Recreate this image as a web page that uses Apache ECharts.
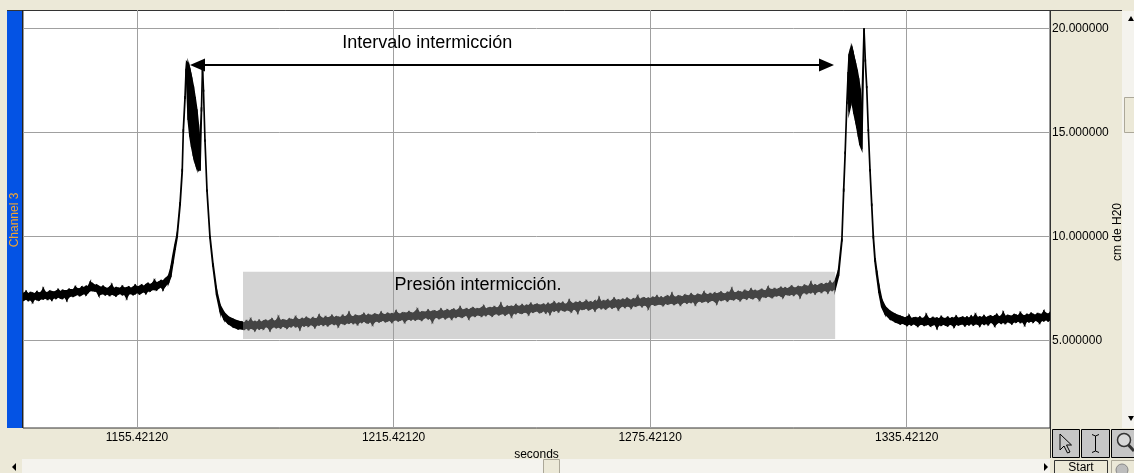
<!DOCTYPE html>
<html>
<head>
<meta charset="utf-8">
<script src="https://cdn.jsdelivr.net/npm/echarts@6/dist/echarts.min.js"></script>
<style>
html, body { margin: 0; padding: 0; background: #ECE9D8; }
#chart { width: 1134px; height: 473px; }
</style>
</head>
<body>
<div id="chart"></div>
<script>
// Axis ticks
const tickSeconds = [1155.4212, 1215.4212, 1275.4212, 1335.4212];
const tickPressure = [5, 10, 15, 20];

// Pressure trace, channel 3: [seconds, min cm H2O, max cm H2O] per sample bin
const baselineBefore = [
  [1128.5,6.88,7.23],[1129,6.95,7.26],[1129.5,6.99,7.34],[1130,6.93,7.23],[1130.5,6.97,7.29],
  [1131,6.85,7.27],[1131.5,7.00,7.24],[1132,6.96,7.33],[1132.5,6.94,7.27],[1133,7.01,7.31],
  [1133.5,7.00,7.47],[1134,7.04,7.30],[1134.5,6.98,7.29],[1135,7.03,7.36],[1135.5,6.95,7.34],
  [1136,7.06,7.32],[1136.5,7.03,7.36],[1137,7.10,7.43],[1137.5,7.04,7.33],[1138,7.02,7.40],
  [1138.5,7.10,7.38],[1139,6.95,7.38],[1139.5,7.10,7.45],[1140,7.15,7.43],[1140.5,7.12,7.42],
  [1141,7.17,7.56],[1141.5,7.22,7.48],[1142,7.16,7.47],[1142.5,7.21,7.56],[1143,7.26,7.53],
  [1143.5,7.20,7.59],[1144,7.31,7.58],[1144.5,7.40,7.79],[1145,7.40,7.73],[1145.5,7.38,7.65],
  [1146,7.36,7.65],[1146.5,7.17,7.59],[1147,7.24,7.54],[1147.5,7.25,7.59],[1148,7.20,7.52],
  [1148.5,7.24,7.49],[1149,7.17,7.55],[1149.5,7.22,7.66],[1150,7.20,7.48],[1150.5,7.15,7.53],
  [1151,7.23,7.51],[1151.5,7.26,7.50],[1152,7.20,7.59],[1152.5,7.22,7.50],[1153,7.05,7.53],
  [1153.5,7.24,7.56],[1154,7.26,7.50],[1154.5,7.21,7.55],[1155,7.25,7.64],[1155.5,7.31,7.56],
  [1156,7.24,7.59],[1156.5,7.30,7.65],[1157,7.35,7.59],[1157.5,7.27,7.68],[1158,7.39,7.73],
  [1158.5,7.38,7.68],[1159,7.45,7.73],[1159.5,7.45,7.88],[1160,7.43,7.76],[1160.5,7.52,7.80],
  [1161,7.58,7.87],[1161.5,7.46,7.85],[1162,7.62,7.95]
];
const peakOne = [
  [1162.8,7.78,8.10],[1163.3,8.05,8.45],[1163.8,8.70,9.05],[1164.3,9.35,9.60],[1164.8,9.95,10.10],
  [1165.5,11.50,11.65],[1166.0,13.10,13.25],[1166.25,15.00,15.15],[1166.65,16.60,16.75],
  [1166.9,17.90,18.05],[1167.04,17.50,18.38],[1167.4,15.60,18.30],[1167.8,14.80,18.00],
  [1168.2,14.30,17.60],[1168.6,13.90,17.20],[1168.98,13.60,16.70],[1169.4,13.30,16.10],
  [1169.75,13.20,15.40],[1170.15,13.19,14.50],[1170.5,16.00,16.20],[1170.74,18.05,18.20],
  [1170.97,16.95,17.05],[1171.32,14.55,14.65],[1171.79,12.15,12.25],[1172.49,9.90,10.02],
  [1173.19,8.55,8.70],[1174.05,7.18,7.38],[1174.83,6.42,6.70],[1175.76,6.02,6.34],
  [1176.7,5.82,6.14],[1177.87,5.66,6.02],[1179.04,5.56,5.92]
];
const intervalTrace = [
  [1180,5.56,5.88],[1180.5,5.54,5.83],[1181,5.60,5.93],[1181.5,5.53,5.87],[1182,5.59,6.01],
  [1182.5,5.57,5.87],[1183,5.49,5.90],[1183.5,5.62,5.87],[1184,5.56,5.95],[1184.5,5.60,5.86],
  [1185,5.56,5.92],[1185.5,5.67,5.96],[1186,5.64,5.91],[1186.5,5.50,5.96],[1187,5.62,6.02],
  [1187.5,5.67,5.91],[1188,5.62,5.95],[1188.5,5.66,6.11],[1189,5.61,5.93],[1189.5,5.70,5.98],
  [1190,5.66,5.96],[1190.5,5.60,5.94],[1191,5.69,6.02],[1191.5,5.67,6.00],[1192,5.74,5.97],
  [1192.5,5.67,6.11],[1193,5.71,6.00],[1193.5,5.56,5.98],[1194,5.74,6.04],[1194.5,5.70,6.01],
  [1195,5.74,6.09],[1195.5,5.69,6.04],[1196,5.77,5.99],[1196.5,5.74,6.08],[1197,5.64,6.04],
  [1197.5,5.76,6.03],[1198,5.75,6.19],[1198.5,5.80,6.09],[1199,5.74,6.04],[1199.5,5.80,6.13],
  [1200,5.72,6.07],[1200.5,5.79,6.10],[1201,5.83,6.18],[1201.5,5.78,6.08],[1202,5.81,6.13],
  [1202.5,5.69,6.11],[1203,5.85,6.09],[1203.5,5.82,6.19],[1204,5.79,6.12],[1204.5,5.86,6.16],
  [1205,5.84,6.31],[1205.5,5.89,6.15],[1206,5.82,6.13],[1206.5,5.87,6.20],[1207,5.78,6.17],
  [1207.5,5.90,6.16],[1208,5.87,6.20],[1208.5,5.94,6.27],[1209,5.87,6.16],[1209.5,5.85,6.23],
  [1210,5.92,6.20],[1210.5,5.77,6.20],[1211,5.91,6.26],[1211.5,5.95,6.23],[1212,5.90,6.20],
  [1212.5,5.94,6.33],[1213,5.98,6.24],[1213.5,5.91,6.22],[1214,5.94,6.29],[1214.5,5.98,6.25],
  [1215,5.89,6.28],[1215.5,5.98,6.25],[1216,6.00,6.39],[1216.5,5.95,6.28],[1217,5.98,6.25],
  [1217.5,6.03,6.32],[1218,5.89,6.31],[1218.5,6.00,6.30],[1219,6.03,6.37],[1219.5,6.00,6.32],
  [1220,6.05,6.30],[1220.5,5.99,6.37],[1221,6.04,6.48],[1221.5,6.03,6.31],[1222,5.98,6.36],
  [1222.5,6.07,6.35],[1223,6.11,6.35],[1223.5,6.05,6.44],[1224,6.07,6.35],[1224.5,5.91,6.39],
  [1225,6.09,6.41],[1225.5,6.12,6.36],[1226,6.06,6.40],[1226.5,6.10,6.49],[1227,6.14,6.39],
  [1227.5,6.06,6.41],[1228,6.11,6.46],[1228.5,6.15,6.39],[1229,6.04,6.45],[1229.5,6.15,6.49],
  [1230,6.12,6.42],[1230.5,6.18,6.46],[1231,6.15,6.58],[1231.5,6.12,6.45],[1232,6.19,6.47],
  [1232.5,6.22,6.51],[1233,6.06,6.45],[1233.5,6.18,6.51],[1234,6.20,6.56],[1234.5,6.17,6.49],
  [1235,6.24,6.52],[1235.5,6.22,6.50],[1236,6.17,6.56],[1236.5,6.25,6.64],[1237,6.21,6.50],
  [1237.5,6.28,6.54],[1238,6.24,6.57],[1238.5,6.18,6.55],[1239,6.27,6.61],[1239.5,6.30,6.55],
  [1240,6.24,6.58],[1240.5,6.28,6.74],[1241,6.30,6.57],[1241.5,6.23,6.56],[1242,6.29,6.63],
  [1242.5,6.34,6.61],[1243,6.17,6.63],[1243.5,6.33,6.60],[1244,6.30,6.70],[1244.5,6.37,6.63],
  [1245,6.33,6.63],[1245.5,6.31,6.70],[1246,6.37,6.62],[1246.5,6.36,6.68],[1247,6.26,6.66],
  [1247.5,6.40,6.76],[1248,6.36,6.66],[1248.5,6.40,6.70],[1249,6.43,6.73],[1249.5,6.35,6.69],
  [1250,6.37,6.69],[1250.5,6.44,6.73],[1251,6.34,6.67],[1251.5,6.42,6.76],[1252,6.29,6.71],
  [1252.5,6.45,6.75],[1253,6.42,6.83],[1253.5,6.47,6.72],[1254,6.39,6.78],[1254.5,6.50,6.76],
  [1255,6.45,6.81],[1255.5,6.43,6.72],[1256,6.48,6.75],[1256.5,6.45,6.91],[1257,6.39,6.79],
  [1257.5,6.52,6.76],[1258,6.49,6.82],[1258.5,6.35,6.80],[1259,6.53,6.85],[1259.5,6.50,6.78],
  [1260,6.52,6.82],[1260.5,6.56,6.90],[1261,6.48,6.81],[1261.5,6.52,6.85],[1262,6.57,6.80],
  [1262.5,6.45,6.89],[1263,6.56,6.85],[1263.5,6.60,7.02],[1264,6.54,6.84],[1264.5,6.59,6.90],
  [1265,6.52,6.87],[1265.5,6.59,6.94],[1266,6.64,6.86],[1266.5,6.57,6.91],[1267,6.61,7.01],
  [1267.5,6.64,6.91],[1268,6.50,6.94],[1268.5,6.62,6.91],[1269,6.67,6.97],[1269.5,6.60,6.93],
  [1270,6.66,7.01],[1270.5,6.65,6.96],[1271,6.57,6.92],[1271.5,6.69,6.99],[1272,6.65,6.97],
  [1272.5,6.69,7.11],[1273,6.72,6.96],[1273.5,6.64,7.01],[1274,6.71,7.04],[1274.5,6.69,6.99],
  [1275,6.55,7.02],[1275.5,6.73,6.99],[1276,6.75,7.06],[1276.5,6.70,7.03],[1277,6.73,7.12],
  [1277.5,6.76,7.02],[1278,6.74,7.07],[1278.5,6.69,7.02],[1279,6.80,7.09],[1279.5,6.75,7.13],
  [1280,6.78,7.06],[1280.5,6.80,7.23],[1281,6.74,7.09],[1281.5,6.79,7.07],[1282,6.83,7.13],
  [1282.5,6.72,7.11],[1283,6.82,7.08],[1283.5,6.86,7.17],[1284,6.80,7.15],[1284.5,6.86,7.13],
  [1285,6.83,7.22],[1285.5,6.88,7.15],[1286,6.74,7.13],[1286.5,6.87,7.20],[1287,6.91,7.18],
  [1287.5,6.86,7.15],[1288,6.88,7.30],[1288.5,6.91,7.21],[1289,6.85,7.19],[1289.5,6.92,7.24],
  [1290,6.94,7.19],[1290.5,6.89,7.27],[1291,6.79,7.23],[1291.5,6.98,7.26],[1292,6.93,7.31],
  [1292.5,6.96,7.24],[1293,6.98,7.22],[1293.5,6.91,7.30],[1294,7.00,7.28],[1294.5,6.98,7.46],
  [1295,6.97,7.29],[1295.5,7.04,7.28],[1296,7.00,7.34],[1296.5,6.93,7.32],[1297,7.04,7.29],
  [1297.5,7.04,7.39],[1298,7.00,7.35],[1298.5,7.09,7.33],[1299,7.04,7.45],[1299.5,7.02,7.36],
  [1300,7.09,7.39],[1300.5,7.07,7.35],[1301,6.96,7.39],[1301.5,7.11,7.44],[1302,7.11,7.39],
  [1302.5,7.09,7.38],[1303,7.15,7.54],[1303.5,7.11,7.44],[1304,7.07,7.43],[1304.5,7.16,7.48],
  [1305,7.15,7.43],[1305.5,7.19,7.47],[1306,7.14,7.53],[1306.5,7.08,7.47],[1307,7.23,7.52],
  [1307.5,7.21,7.47],[1308,7.19,7.52],[1308.5,7.23,7.60],[1309,7.18,7.52],[1309.5,7.26,7.51],
  [1310,7.24,7.58],[1310.5,7.10,7.56],[1311,7.28,7.55],[1311.5,7.31,7.64],[1312,7.26,7.60],
  [1312.5,7.31,7.58],[1313,7.30,7.76],[1313.5,7.35,7.62],[1314,7.26,7.66],[1314.5,7.35,7.61],
  [1315,7.37,7.67],[1315.5,7.32,7.71],[1316,7.40,7.65],[1316.5,7.40,7.72],[1317,7.31,7.71],
  [1317.5,7.45,7.81],[1318,7.41,7.71]
];
const peakTwo = [
  [1318.69,7.48,7.85],[1319.46,8.10,8.35],[1320.26,9.75,9.90],[1320.68,12.15,12.30],
  [1321.03,13.95,14.08],[1321.43,16.35,16.48],[1321.73,17.40,17.90],[1321.96,16.00,18.75],
  [1322.3,16.30,19.00],[1322.56,16.60,19.05],[1322.85,16.20,18.85],[1323.1,15.90,18.60],
  [1323.45,15.60,18.30],[1323.8,15.20,18.00],[1324.15,14.80,17.60],[1324.5,14.40,17.10],
  [1324.9,14.20,16.00],[1325.44,19.90,20.00],[1325.74,18.40,18.50],[1326.07,17.12,17.22],
  [1326.44,15.05,15.15],[1326.84,13.12,13.24],[1327.24,11.45,11.58],[1327.61,9.90,10.04],
  [1328.01,8.78,8.95],[1328.41,8.12,8.35],[1328.95,7.28,7.58],[1329.58,6.62,6.96],
  [1330.35,6.28,6.63],[1331.5,6.04,6.40],[1332.7,5.90,6.26],[1333.9,5.80,6.16]
];
const baselineAfter = [
  [1334.5,5.83,6.11],[1335,5.79,6.07],[1335.5,5.73,6.12],[1336,5.80,6.19],[1336.5,5.75,6.04],
  [1337,5.81,6.07],[1337.5,5.76,6.09],[1338,5.69,6.06],[1338.5,5.77,6.11],[1339,5.79,6.04],
  [1339.5,5.73,6.07],[1340,5.76,6.22],[1340.5,5.78,6.05],[1341,5.70,6.03],[1341.5,5.75,6.09],
  [1342,5.78,6.05],[1342.5,5.61,6.07],[1343,5.76,6.03],[1343.5,5.73,6.13],[1344,5.79,6.05],
  [1344.5,5.74,6.04],[1345,5.71,6.10],[1345.5,5.78,6.03],[1346,5.76,6.08],[1346.5,5.66,6.06],
  [1347,5.79,6.15],[1347.5,5.75,6.05],[1348,5.78,6.08],[1348.5,5.81,6.11],[1349,5.72,6.06],
  [1349.5,5.79,6.11],[1350,5.76,6.05],[1350.5,5.82,6.15],[1351,5.75,6.09],[1351.5,5.81,6.23],
  [1352,5.79,6.09],[1352.5,5.71,6.12],[1353,5.84,6.09],[1353.5,5.78,6.17],[1354,5.82,6.08],
  [1354.5,5.77,6.13],[1355,5.88,6.17],[1355.5,5.85,6.12],[1356,5.71,6.17],[1356.5,5.83,6.23],
  [1357,5.88,6.12],[1357.5,5.83,6.16],[1358,5.87,6.32],[1358.5,5.82,6.14],[1359,5.91,6.19],
  [1359.5,5.87,6.17],[1360,5.81,6.15],[1360.5,5.90,6.23],[1361,5.88,6.21],[1361.5,5.94,6.17],
  [1362,5.87,6.31],[1362.5,5.91,6.20],[1363,5.76,6.18],[1363.5,5.94,6.24],[1364,5.90,6.21],
  [1364.5,5.94,6.29],[1365,5.89,6.24],[1365.5,5.98,6.20],[1366,5.94,6.28],[1366.5,5.85,6.25],
  [1367,5.97,6.24],[1367.5,5.95,6.39],[1368,6.00,6.29],[1368.5,5.95,6.25],[1369,6.00,6.33],
  [1369.5,5.93,6.28]
];

// Annotations
const intervalLabel = 'Intervalo intermicción';
const intervalLabelAt = [1223.3, 19.27];
const intervalArrow = [[1169.57, 18.24], [1316.67, 18.24]];
const pressureLabel = 'Presión intermicción.';
const pressureLabelAt = [1235.17, 7.64];
const pressureWindow = [1180.21, 5.07, 1318.69, 8.30];
const channelName = 'Channel 3';
const unitName = 'cm de H20';

const trace = [].concat(baselineBefore, peakOne, intervalTrace, peakTwo, baselineAfter);

const FONT = '"Liberation Sans", Arial, sans-serif';
const chart = echarts.init(document.getElementById('chart'), null, { renderer: 'canvas' });

// Window chrome around the plot
const chrome = [
  { type: 'rect', shape: { x: 0, y: 0, width: 1134, height: 10 }, style: { fill: '#ECE9D8' } },
  { type: 'line', shape: { x1: 7, y1: 10.5, x2: 1122, y2: 10.5 }, style: { stroke: '#333', lineWidth: 1 } },
  { type: 'rect', shape: { x: 7, y: 11, width: 15, height: 417 }, style: { fill: '#0453E4' } },
  { type: 'line', shape: { x1: 22.5, y1: 10, x2: 22.5, y2: 428 }, style: { stroke: '#222', lineWidth: 1 } },
  { type: 'text', x: 15, y: 220, rotation: Math.PI / 2,
    style: { text: channelName, fill: '#F2A531', font: '12px ' + FONT, align: 'center', verticalAlign: 'middle' } },
  // unit title of the pressure axis
  { type: 'text', x: 1117.5, y: 232, rotation: Math.PI / 2,
    style: { text: unitName, fill: '#000', font: '12px ' + FONT, align: 'center', verticalAlign: 'middle' } },
  // vertical scrollbar
  { type: 'rect', shape: { x: 1122, y: 11, width: 12, height: 417 }, style: { fill: '#F4F3EE' } },
  { type: 'polygon', shape: { points: [[1128, 21], [1134, 21], [1131, 16]] }, style: { fill: '#000' } },
  { type: 'polygon', shape: { points: [[1128, 416], [1134, 416], [1131, 421]] }, style: { fill: '#000' } },
  { type: 'rect', shape: { x: 1124.5, y: 97.5, width: 10, height: 35 }, style: { fill: '#ECE9D8', stroke: '#ACA899', lineWidth: 1 } },
  // right panel border
  { type: 'line', shape: { x1: 1050.5, y1: 10, x2: 1050.5, y2: 458 }, style: { stroke: '#333', lineWidth: 1 } },
  // horizontal scrollbar
  { type: 'rect', shape: { x: 7, y: 459, width: 1043, height: 14 }, style: { fill: '#F4F3EE' } },
  { type: 'rect', shape: { x: 7, y: 459, width: 15, height: 14 }, style: { fill: '#ECE9D8' } },
  { type: 'polygon', shape: { points: [[16, 463], [16, 471], [12, 467]] }, style: { fill: '#000' } },
  { type: 'rect', shape: { x: 543.5, y: 459.5, width: 16, height: 14 }, style: { fill: '#ECE9D8', stroke: '#ACA899', lineWidth: 1 } },
  { type: 'polygon', shape: { points: [[1044, 463], [1044, 471], [1048, 467]] }, style: { fill: '#000' } },
  // toolbar buttons
  { type: 'rect', shape: { x: 1051, y: 428, width: 83, height: 30 }, style: { fill: '#ECE9D8' } },
  { type: 'rect', shape: { x: 1052.5, y: 429.5, width: 27, height: 28 }, style: { fill: '#C6C6C6', stroke: '#000', lineWidth: 1 } },
  { type: 'rect', shape: { x: 1081.5, y: 429.5, width: 28, height: 28 }, style: { fill: '#C6C6C6', stroke: '#000', lineWidth: 1 } },
  { type: 'rect', shape: { x: 1111.5, y: 429.5, width: 24, height: 28 }, style: { fill: '#C6C6C6', stroke: '#000', lineWidth: 1 } },
  { type: 'polygon', shape: { points: [[1060, 434], [1060, 450], [1064, 446], [1067.5, 453], [1070, 452], [1066.5, 445], [1071.5, 445]] },
    style: { fill: '#C6C6C6', stroke: '#000', lineWidth: 1 } },
  { type: 'polyline', shape: { points: [[1092, 434.5], [1095.5, 436], [1099, 434.5]] }, style: { stroke: '#000', lineWidth: 1, fill: null } },
  { type: 'line', shape: { x1: 1095.5, y1: 436, x2: 1095.5, y2: 451 }, style: { stroke: '#000', lineWidth: 1 } },
  { type: 'polyline', shape: { points: [[1092, 452.5], [1095.5, 451], [1099, 452.5]] }, style: { stroke: '#000', lineWidth: 1, fill: null } },
  { type: 'circle', shape: { cx: 1124, cy: 440, r: 6.5 }, style: { fill: '#D8D8D8', stroke: '#333', lineWidth: 1.5 } },
  { type: 'line', shape: { x1: 1128.5, y1: 445, x2: 1134, y2: 451 }, style: { stroke: '#333', lineWidth: 3 } },
  // Start button
  { type: 'rect', shape: { x: 1054.5, y: 460.5, width: 53, height: 14 }, style: { fill: '#ECE9D8', stroke: '#333', lineWidth: 1 } },
  { type: 'text', x: 1081, y: 467.5, style: { text: 'Start', fill: '#000', font: '12px ' + FONT, align: 'center', verticalAlign: 'middle' } },
  { type: 'rect', shape: { x: 1111.5, y: 460.5, width: 24, height: 14 }, style: { fill: '#ECE9D8', stroke: '#ACA899', lineWidth: 1 } },
  { type: 'circle', shape: { cx: 1122, cy: 470, r: 6 }, style: { fill: '#BDBDBD', stroke: '#888', lineWidth: 1 } }
];

chart.setOption({
  animation: false,
  backgroundColor: '#ECE9D8',
  textStyle: { fontFamily: FONT },
  grid: {
    left: 23, right: 84, top: 10, bottom: 45,
    show: true, backgroundColor: '#FFFFFF', borderColor: '#333', borderWidth: 1,
    outerBoundsMode: 'none'
  },
  xAxis: {
    type: 'value', min: 1128.76, max: 1368.93,
    axisLine: { show: false },
    axisTick: { show: false, customValues: tickSeconds },
    axisLabel: { customValues: tickSeconds, formatter: v => v.toFixed(5), color: '#000', fontSize: 12, fontFamily: FONT, margin: 4 },
    splitLine: { show: true, lineStyle: { color: '#A0A0A0', width: 1 } },
    name: 'seconds', nameLocation: 'middle', nameGap: 19,
    nameTextStyle: { color: '#000', fontSize: 12, fontFamily: FONT }
  },
  yAxis: {
    type: 'value', position: 'right', min: 0.79, max: 20.88,
    axisLine: { show: false },
    axisTick: { show: false, customValues: tickPressure },
    axisLabel: { customValues: tickPressure, formatter: v => v.toFixed(6), color: '#000', fontSize: 12, fontFamily: FONT, margin: 2 },
    splitLine: { show: true, lineStyle: { color: '#A0A0A0', width: 1 } }
  },
  graphic: { elements: chrome },
  series: [
    {
      // min/max envelope of the recorded pressure, one slice per bin
      type: 'custom', name: channelName, z: 2, clip: true, silent: true,
      data: trace,
      encode: { x: 0, y: [1, 2] },
      renderItem(params, api) {
        const i = params.dataIndex;
        if (i >= trace.length - 1) return null;
        const next = trace[i + 1];
        const pts = [
          api.coord([api.value(0), api.value(2)]),
          api.coord([next[0], next[2]]),
          api.coord([next[0], next[1]]),
          api.coord([api.value(0), api.value(1)])
        ];
        return { type: 'polygon', shape: { points: pts }, style: { fill: '#000', stroke: '#000', lineWidth: 1.6 } };
      }
    },
    {
      // shaded window over the pressure between voids
      type: 'custom', name: 'window', z: 3, silent: true,
      data: [pressureWindow],
      encode: { x: [0, 2], y: [1, 3] },
      renderItem(params, api) {
        const p0 = api.coord([api.value(0), api.value(3)]);
        const p1 = api.coord([api.value(2), api.value(1)]);
        return { type: 'rect', shape: { x: p0[0], y: p0[1], width: p1[0] - p0[0], height: p1[1] - p0[1] },
                 style: { fill: 'rgba(156,156,156,0.435)' } };
      }
    },
    {
      type: 'line', name: 'notes', data: [], z: 4, silent: true,
      markLine: {
        silent: true, animation: false,
        symbol: ['triangle', 'triangle'], symbolSize: [13, 15],
        lineStyle: { color: '#000', width: 2, type: 'solid' },
        itemStyle: { color: '#000' },
        label: { show: false },
        emphasis: { disabled: true },
        data: [[{ coord: intervalArrow[0] }, { coord: intervalArrow[1] }]]
      },
      markPoint: {
        silent: true, animation: false,
        symbol: 'circle', symbolSize: 1,
        itemStyle: { color: 'rgba(0,0,0,0)' },
        label: { show: true, position: 'inside', formatter: '{b}', color: '#000', fontSize: 18, fontFamily: FONT },
        data: [
          { name: intervalLabel, coord: intervalLabelAt },
          { name: pressureLabel, coord: pressureLabelAt }
        ]
      }
    }
  ]
});
</script>
</body>
</html>
